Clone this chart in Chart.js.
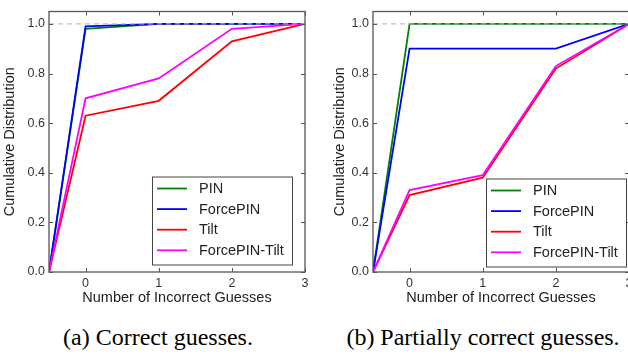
<!DOCTYPE html>
<html>
<head>
<meta charset="utf-8">
<script src="https://cdn.jsdelivr.net/npm/chart.js@4.4.0/dist/chart.umd.min.js"></script>
<style>
  html, body { margin: 0; padding: 0; background: #fff; width: 628px; height: 354px; overflow: hidden; position: relative; }
  .panel { position: absolute; top: 0; width: 320px; height: 310px; }
  .cap { position: absolute; top: 323px; line-height: 28px; font-family: "Liberation Serif", "Times New Roman", serif; font-size: 24px; color: #000; white-space: nowrap; transform: translateX(-50%); }
</style>
</head>
<body>
<div class="panel" style="left:0"><canvas id="chartA"></canvas></div>
<div class="panel" style="left:324px"><canvas id="chartB"></canvas></div>
<div class="cap" style="left:158px">(a) Correct guesses.</div>
<div class="cap" style="left:483px">(b) Partially correct guesses.</div>
<script>
// x positions (first point is the curve start at the left edge)
const xValues = [-0.5, 0, 1, 2, 3];
const xTicks = [0, 1, 2, 3];
const yTicks = [0, 0.2, 0.4, 0.6, 0.8, 1.0];
const seriesNames = ["PIN", "ForcePIN", "Tilt", "ForcePIN-Tilt"];
const seriesColors = ["#008000", "#0000ff", "#ff0000", "#ff00ff"];
const refLine = 1.0;

// (a) correct guesses
const pinA = [0, 0.98, 1.0, 1.0, 1.0];
const forcePinA = [0, 0.99, 1.0, 1.0, 1.0];
const tiltA = [0, 0.63, 0.69, 0.93, 1.0];
const forcePinTiltA = [0, 0.70, 0.78, 0.98, 1.0];

// (b) partially correct guesses
const pinB = [0, 1.0, 1.0, 1.0, 1.0];
const forcePinB = [0, 0.90, 0.90, 0.90, 1.0];
const tiltB = [0, 0.31, 0.38, 0.82, 1.0];
const forcePinTiltB = [0, 0.33, 0.39, 0.83, 1.0];

const FONT = "'Liberation Sans', Arial, sans-serif";

// frame, inward ticks, dashed line at 1.0 and the boxed legend
const framePlugin = {
  id: "frame",
  afterDatasetsDraw(chart, args, opts) {
    const { ctx, chartArea: a, scales } = chart;
    const seg = (x1, y1, x2, y2) => { ctx.beginPath(); ctx.moveTo(x1, y1); ctx.lineTo(x2, y2); ctx.stroke(); };
    ctx.save();

    const yr = scales.y.getPixelForValue(refLine);
    ctx.strokeStyle = "rgba(185,185,185,0.9)";
    ctx.lineWidth = 1.2;
    ctx.setLineDash([5, 4]);
    seg(a.left, yr, a.right, yr);
    ctx.setLineDash([]);

    ctx.strokeStyle = "#555";
    ctx.lineWidth = 1;
    xTicks.forEach(v => {
      const px = Math.round(scales.x.getPixelForValue(v)) + 0.5;
      seg(px, a.top, px, a.top + 4);
      seg(px, a.bottom, px, a.bottom - 4);
    });
    yTicks.forEach(v => {
      const py = Math.round(scales.y.getPixelForValue(v)) + 0.5;
      seg(a.left, py, a.left + 4, py);
      seg(a.right, py, a.right - 4, py);
    });
    ctx.lineWidth = 1.3;
    ctx.strokeRect(a.left, a.top, a.right - a.left, a.bottom - a.top);

    // legend
    const bx = a.left + opts.boxX, by = a.top + opts.boxY, bw = 140, bh = 88;
    ctx.fillStyle = "#fff";
    ctx.fillRect(bx, by, bw, bh);
    ctx.strokeStyle = "#444";
    ctx.lineWidth = 1;
    ctx.strokeRect(bx + 0.5, by + 0.5, bw, bh);
    ctx.font = "14.5px " + FONT;
    ctx.textBaseline = "middle";
    ctx.textAlign = "left";
    seriesNames.forEach((name, i) => {
      const ry = by + 12 + i * 20.6;
      ctx.strokeStyle = seriesColors[i];
      ctx.lineWidth = 1.8;
      seg(bx + 5, ry, bx + 35, ry);
      ctx.fillStyle = "#222";
      ctx.fillText(name, bx + 47, ry + 0.5);
    });
    ctx.restore();
  }
};

function makeChart(id, series, legendPos, yTitlePad) {
  const n = series.length;
  const datasets = series.map((vals, i) => ({
    label: seriesNames[i],
    data: xValues.map((x, k) => ({ x: x, y: vals[k] })),
    borderColor: seriesColors[i],
    borderWidth: 1.8,
    pointRadius: 0,
    tension: 0,
    fill: false,
    order: n - i
  }));

  return new Chart(document.getElementById(id), {
    type: "line",
    data: { datasets: datasets },
    options: {
      responsive: true,
      maintainAspectRatio: false,
      animation: false,
      layout: { padding: { top: 7, right: 15, bottom: 0, left: 0 } },
      plugins: {
        legend: { display: false },
        tooltip: { enabled: false },
        frame: legendPos
      },
      scales: {
        x: {
          type: "linear",
          min: -0.5,
          max: 3,
          afterFit: s => { s.height = 38; },
          afterBuildTicks: s => { s.ticks = xTicks.map(v => ({ value: v })); },
          grid: { display: false, drawTicks: false },
          border: { display: false },
          ticks: { padding: 4, color: "#333", font: { family: FONT, size: 12.5 }, callback: v => String(v) },
          title: { display: true, text: "Number of Incorrect Guesses", color: "#222", font: { family: FONT, size: 14.5 }, padding: { top: 0, bottom: 3 } }
        },
        y: {
          min: 0,
          max: 1.05,
          afterFit: s => { s.width = 49; },
          afterBuildTicks: s => { s.ticks = yTicks.map(v => ({ value: v })); },
          grid: { display: false, drawTicks: false },
          border: { display: false },
          ticks: { padding: 4, color: "#333", font: { family: FONT, size: 12.5 }, callback: v => v.toFixed(1) },
          title: { display: true, text: "Cumulative Distribution", color: "#222", font: { family: FONT, size: 14.5 }, padding: { top: yTitlePad, bottom: 0 } }
        }
      }
    },
    plugins: [framePlugin]
  });
}

makeChart("chartA", [pinA, forcePinA, tiltA, forcePinTiltA], { boxX: 103, boxY: 165 }, 1);
makeChart("chartB", [pinB, forcePinB, tiltB, forcePinTiltB], { boxX: 113, boxY: 167 }, 7);
</script>
</body>
</html>
